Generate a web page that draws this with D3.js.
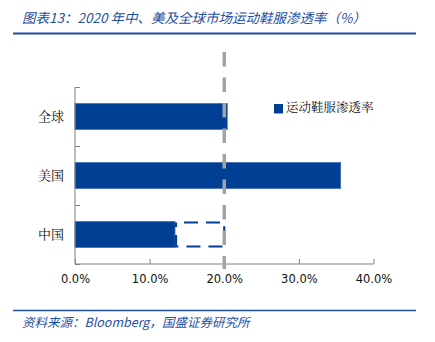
<!DOCTYPE html>
<html>
<head>
<meta charset="utf-8">
<script src="https://cdn.jsdelivr.net/npm/d3@7"></script>
<style>
  html, body { margin: 0; padding: 0; background: #fff; }
  svg { display: block; }
</style>
</head>
<body>
<svg id="chart" width="435" height="342"></svg>
<script>
// Sportswear penetration rate, 2020 (%)
const categories = ["全球", "美国", "中国"];
const penetration = [20.4, 35.6, 13.4];
const referenceLevel = 20;            // dashed guide / China target gap
const xTicks = [0, 10, 20, 30, 40];
const seriesName = "运动鞋服渗透率";
const titleText = "图表13：2020 年中、美及全球市场运动鞋服渗透率（%）";
const sourceText = "资料来源：Bloomberg，国盛证券研究所";

const blue = "#003f94";
const headBlue = "#1f4f9f";
const svg = d3.select("#chart");

// header
svg.append("text")
  .attr("x", 22).attr("y", 23)
  .attr("fill", headBlue)
  .attr("font-family", "'Noto Sans CJK SC', 'DejaVu Sans', sans-serif")
  .attr("font-size", 13.5)
  .attr("font-style", "italic")
  .text(titleText);
svg.append("line")
  .attr("x1", 13).attr("x2", 416).attr("y1", 33.5).attr("y2", 33.5)
  .attr("stroke", headBlue).attr("stroke-width", 2);

// footer
svg.append("line")
  .attr("x1", 13).attr("x2", 416).attr("y1", 310.5).attr("y2", 310.5)
  .attr("stroke", headBlue).attr("stroke-width", 1.5);
svg.append("text")
  .attr("x", 22).attr("y", 327)
  .attr("fill", headBlue)
  .attr("font-family", "'Noto Sans CJK SC', 'DejaVu Sans', sans-serif")
  .attr("font-size", 12.5)
  .attr("font-style", "italic")
  .text(sourceText);

// plot area
const x = d3.scaleLinear().domain([0, 40]).range([75, 373.5]);
const y = d3.scaleBand().domain(categories).range([87, 264]).paddingInner(0.56).paddingOuter(0.28);

const plot = svg.append("g");

// bars
plot.selectAll("rect.bar")
  .data(categories)
  .join("rect")
  .attr("class", "bar")
  .attr("x", x(0))
  .attr("y", d => y(d))
  .attr("width", (d, i) => x(penetration[i]) - x(0))
  .attr("height", y.bandwidth())
  .attr("fill", blue)
  .attr("stroke", "#3f6fb8")
  .attr("stroke-width", 0.8);

// China: gap to the reference level
const cn = categories[2];
plot.append("rect")
  .attr("x", x(penetration[2]) + 1)
  .attr("y", y(cn) + 1)
  .attr("width", x(referenceLevel) - x(penetration[2]) - 1)
  .attr("height", y.bandwidth() - 2)
  .attr("fill", "none")
  .attr("stroke", blue)
  .attr("stroke-width", 2.2)
  .attr("stroke-dasharray", "14,8")
  .attr("stroke-dashoffset", -8);

// x axis
const xAxis = svg.append("g")
  .attr("transform", "translate(0,264)")
  .call(d3.axisBottom(x).tickValues(xTicks).tickSize(-5).tickPadding(12)
    .tickFormat(d => d.toFixed(1) + "%"));
xAxis.select(".domain").attr("stroke", "#808080").attr("d", "M75,0H373.5");
xAxis.selectAll(".tick line").attr("stroke", "#808080");
xAxis.selectAll(".tick text")
  .attr("fill", "#111")
  .attr("font-family", "'DejaVu Sans', Verdana, sans-serif")
  .attr("font-size", 11.5)
  .attr("dy", "0.6em");

// y axis
const bandEdges = [87, 87 + 59, 87 + 118, 264];
const yAxisG = svg.append("g");
yAxisG.append("line")
  .attr("x1", 75).attr("x2", 75).attr("y1", 87).attr("y2", 264)
  .attr("stroke", "#808080");
yAxisG.selectAll("line.tick")
  .data(bandEdges)
  .join("line")
  .attr("class", "tick")
  .attr("x1", 75).attr("x2", 80)
  .attr("y1", d => d + 0.5).attr("y2", d => d + 0.5)
  .attr("stroke", "#808080");
yAxisG.selectAll("text")
  .data(categories)
  .join("text")
  .attr("x", 64)
  .attr("y", d => y(d) + y.bandwidth() / 2 + 1)
  .attr("text-anchor", "end")
  .attr("dominant-baseline", "middle")
  .attr("fill", "#111")
  .attr("font-family", "'Noto Serif CJK SC', 'Noto Sans CJK SC', serif")
  .attr("font-size", 13)
  .text(d => d);

// dashed reference line at 20%
svg.append("line")
  .attr("x1", x(referenceLevel)).attr("x2", x(referenceLevel))
  .attr("y1", 52).attr("y2", 269)
  .attr("stroke", "#a3a3a3")
  .attr("stroke-width", 3.5)
  .attr("stroke-dasharray", "14.5,11");

// legend
const lg = svg.append("g").attr("transform", "translate(274,104)");
lg.append("rect").attr("width", 9).attr("height", 9.5).attr("fill", blue);
lg.append("text")
  .attr("x", 12).attr("y", 5)
  .attr("dominant-baseline", "middle")
  .attr("fill", "#111")
  .attr("font-family", "'Noto Serif CJK SC', 'Noto Sans CJK SC', serif")
  .attr("font-size", 12.5)
  .text(seriesName);
</script>
</body>
</html>
